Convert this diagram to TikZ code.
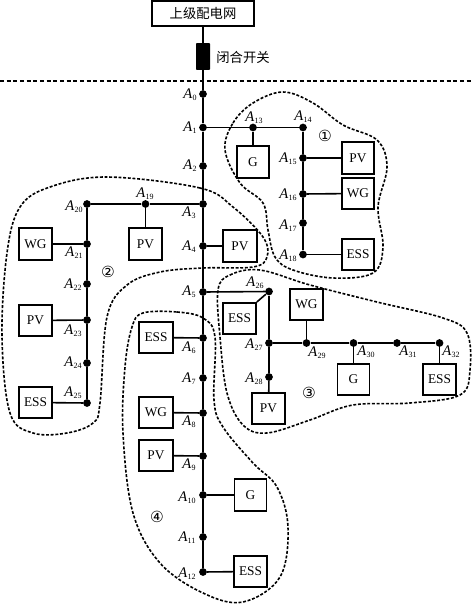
\documentclass[tikz,border=0pt]{standalone}
\usepackage{fontspec}
\setmainfont{Liberation Serif}
\newfontfamily\cjkf{Noto Sans CJK SC}
\newfontfamily\symf{DejaVu Sans}
\newcommand{\lblA}[1]{\fontsize{11}{11}\selectfont\textit{A}\raisebox{-0.3ex}{\fontsize{6}{6}\selectfont #1}}
\tikzset{
  x=0.75pt,y=-0.75pt,
  devbox/.style={draw,line width=1.3pt,minimum width=24.5pt,minimum height=23.5pt,inner sep=0pt,font=\fontsize{10}{10}\selectfont},
  busdot/.style={circle,fill=black,inner sep=0pt,minimum size=5.8pt},
  busline/.style={line width=1.7pt},
  mainline/.style={line width=1.9pt},
  tapline/.style={line width=1.2pt},
  region/.style={line width=1.2pt,dash pattern=on 2.2pt off 1.3pt},
  buslabel/.style={inner sep=0pt},
  circlabel/.style={inner sep=0pt,font=\symf\fontsize{11.5}{11.5}\selectfont},
}
\begin{document}
\begin{tikzpicture}
\useasboundingbox (0,0) rectangle (472,604);
% regions
\draw[region,smooth cycle,tension=0.6] plot coordinates {(225,150)(233,123)(253,103)(283,92)(313,103)(343,125)(377,140)(387,167)(378,207)(383,247)(373,273)(333,278)(293,270)(275,257)(268,230)(263,203)(240,183)};
\draw[region,smooth cycle,tension=0.6] plot coordinates {(107,177)(200,188)(233,207)(263,237)(267,257)(253,267)(203,268)(160,272)(127,285)(107,317)(100,403)(93,423)(67,433)(33,433)(10,413)(2,337)(7,253)(20,207)(50,187)};
\draw[region,smooth cycle,tension=0.6] plot coordinates {(218,290)(230,275)(260,270)(310,285)(377,302)(443,318)(467,333)(470,370)(460,395)(410,403)(353,405)(310,420)(267,433)(243,425)(227,393)(220,337)};
\draw[region,smooth cycle,tension=0.6] plot coordinates {(143,313)(177,312)(203,318)(215,337)(214,400)(223,427)(253,463)(277,487)(288,527)(280,577)(243,602)(203,593)(160,563)(133,513)(123,433)(125,367)(132,327)};
% boundary line
\coordinate (bl) at (0,81);
\coordinate (br) at (472,81);
\draw[line width=1.2pt,dash pattern=on 3pt off 2pt] (bl) -- (br);
% top
\node[draw,line width=1.3pt,minimum width=76pt,minimum height=18.5pt,inner sep=0pt,font=\cjkf\fontsize{10}{10}\selectfont] (grid) at (203,13.5) {上级配电网};
\node[fill=black,rounded corners=0.5pt,minimum width=10.5pt,minimum height=20pt,inner sep=0pt] (sw) at (203,56.5) {};
\node[inner sep=0pt,font=\cjkf\fontsize{10}{10}\selectfont] (swl) at (243,57) {闭合开关};
% bus dots and labels
\foreach \n/\px/\py/\lx/\ly in {
 0/203/94/190/95, 1/203/127.5/190/128, 2/203/166/190/166, 3/203/204/189/213, 4/203/246/189/247,
 5/203/292/189/292, 6/203/338/189/348, 7/203/378/189/379, 8/203/413/189/422, 9/203/456/189/465,
 10/203/495/187/498, 11/203/537/187/538, 12/203/572/187/574,
 13/253/127.5/254/118, 14/303/127.5/303/117, 15/303/158/288/159, 16/303/194/288/195, 17/303/223/288/226, 18/303/254.5/288/256,
 19/145.5/204/145/194, 20/87/204/74/207, 21/87/244/74/253, 22/87/284/73/285, 23/87/320/73/331, 24/87/363/73/363, 25/87/403/73/393,
 26/269/291.5/255/283, 27/269/343/254/345, 28/269/377/254/379,
 29/306.5/343/317/353, 30/353.5/343/366/352, 31/397/343/408/352, 32/439.5/343/451/352}{
  \node[busdot] (d\n) at (\px,\py) {};
  \node[buslabel] (l\n) at (\lx,\ly) {\lblA{\n}};
}
% main feeder
\draw[mainline] (grid) -- (sw);
\draw[mainline] (sw) -- (d0);
\foreach \a/\b in {0/1,1/2,2/3,3/4,4/5,5/6,6/7,7/8,8/9,9/10,10/11,11/12}{\draw[mainline] (d\a) -- (d\b);}
% branches
\foreach \a/\b in {1/13,13/14,3/19,19/20,5/26,27/29,29/30,30/31,31/32}{\draw[tapline] (d\a) -- (d\b);}
\foreach \a/\b in {14/15,15/16,16/17,17/18,20/21,21/22,22/23,23/24,24/25,26/27,27/28}{\draw[busline] (d\a) -- (d\b);}
% devices
\foreach \k/\cx/\cy/\w/\t/\d in {
 a/253/162/32/G/13, b/358/158/32/PV/15, c/358/193.5/32/WG/16, e/358/254.5/32/ESS/18, f/240/246/34/PV/4,
 g/145.5/244/33/PV/19, h/35.5/244/33/WG/21, i/35.5/320.5/33/PV/23, j/35.5/402.5/33/ESS/25,
 k/268.5/408.5/33/PV/28, l/306.5/304.5/33/WG/29, m/353.5/379.5/32/G/30, n/439.5/379.5/33/ESS/32,
 o/156/337.5/34/ESS/6, p/156/412.5/34/WG/8, q/156/455.5/34/PV/9, r/250.5/495/32/G/10, s/250.5/571.5/33/ESS/12}{
  \node[devbox,minimum width=\w*0.75pt] (b\k) at (\cx,\cy) {\t};
  \draw[tapline] (b\k) -- (d\d);
}
\node[devbox,minimum width=24.75pt] (bt) at (239.5,318.5) {ESS};
\draw[tapline] (bt.north east) -- (d26);
% circled numbers
\node[circlabel] (c1) at (325,136) {①};
\node[circlabel] (c2) at (108,272) {②};
\node[circlabel] (c3) at (309,393) {③};
\node[circlabel] (c4) at (157,517) {④};
\end{tikzpicture}
\end{document}
